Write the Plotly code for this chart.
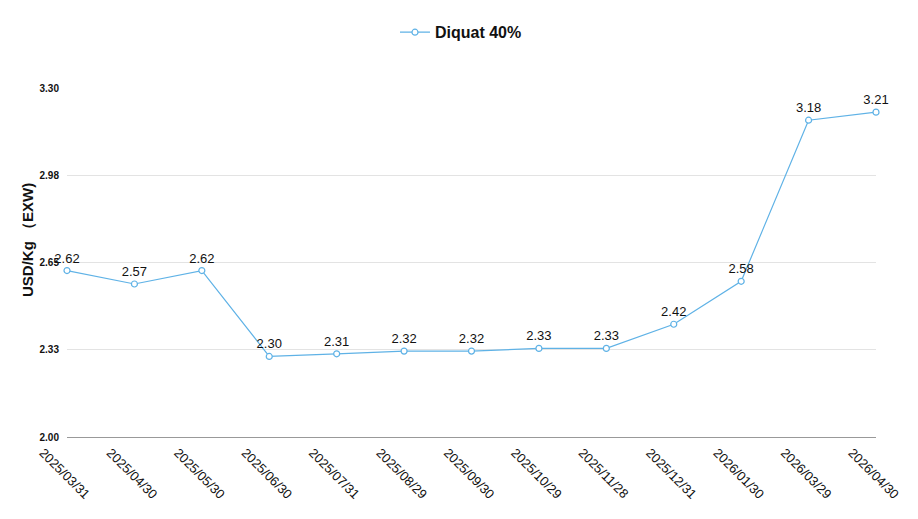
import plotly.graph_objects as go

dates = ["2025/03/31", "2025/04/30", "2025/05/30", "2025/06/30", "2025/07/31",
         "2025/08/29", "2025/09/30", "2025/10/29", "2025/11/28", "2025/12/31",
         "2026/01/30", "2026/03/29", "2026/04/30"]
prices = [2.62, 2.57, 2.62, 2.30, 2.31, 2.32, 2.32, 2.33, 2.33, 2.42, 2.58, 3.18, 3.21]
series_name = "Diquat 40%"
y_ticks = [2.00, 2.325, 2.65, 2.975, 3.30]
y_tick_text = ["2.00", "2.33", "2.65", "2.98", "3.30"]
y_title = "USD/Kg （EXW)"

font_family = "Liberation Sans, Arial, Helvetica, sans-serif"
line_color = "#5fb2e6"

fig = go.Figure()
fig.add_trace(go.Scatter(
    x=list(range(len(dates))), y=prices, name=series_name,
    mode="lines+markers+text",
    line=dict(color=line_color, width=1.2),
    marker=dict(symbol="circle", size=6, color="white",
                line=dict(color=line_color, width=1.2)),
    text=[f"{v:.2f}" for v in prices],
    textposition="top center",
    textfont=dict(family=font_family, size=13, color="#111"),
    cliponaxis=False,
))

fig.add_annotation(
    text=y_title, textangle=-90, showarrow=False,
    xref="paper", yref="paper", x=-0.048, y=0.565, xanchor="center", yanchor="middle",
    font=dict(size=15, color="#111", weight="bold", family=font_family),
)

fig.update_layout(
    width=918, height=519,
    margin=dict(l=67, r=42, t=88, b=82),
    paper_bgcolor="white", plot_bgcolor="white",
    font=dict(family=font_family, color="#111"),
    showlegend=True,
    legend=dict(orientation="h", x=0.487, xanchor="center", y=0.905, yanchor="bottom",
                yref="container", font=dict(size=16, color="#111", weight="bold"),
                itemwidth=30),
    xaxis=dict(
        range=[0, len(dates) - 1],
        tickmode="array", tickvals=list(range(len(dates))), ticktext=dates,
        tickangle=45, tickfont=dict(size=13, color="#111"),
        ticklabelshift=-24, ticklabelstandoff=2,
        showgrid=False, showline=True, linecolor="#999", linewidth=1,
        ticks="", zeroline=False,
    ),
    yaxis=dict(
        range=[2.0, 3.3],
        tickmode="array", tickvals=y_ticks, ticktext=y_tick_text,
        tickfont=dict(size=10, color="#111", weight="bold"),
        showgrid=True, gridcolor="#e3e3e3", gridwidth=1,
        zeroline=False, showline=False, ticks="", ticklabelstandoff=7,
    ),
)

fig.write_html("out.html")
